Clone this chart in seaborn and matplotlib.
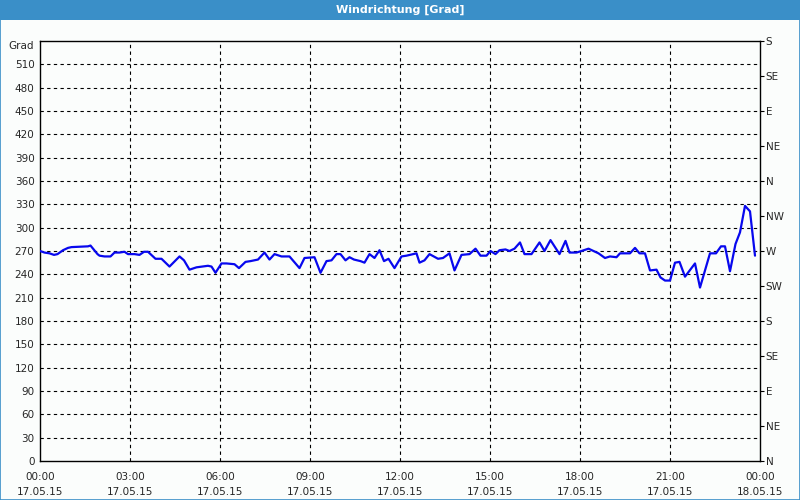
import matplotlib
matplotlib.use("Agg")
import matplotlib.pyplot as plt
import matplotlib.patches as mpatches
import seaborn as sns
import pandas as pd

# ---- data (minutes after 00:00 on 17.05.15, wind direction in degrees) ----
minutes = [0, 9, 19, 28, 35, 46, 56, 63, 96, 101, 106, 115, 119, 129, 141, 149, 159, 169, 176,
           189, 199, 208, 216, 226, 231, 243, 259, 279, 288, 299, 313, 336, 343, 351, 363, 373,
           389, 398, 411, 421, 436, 449, 459, 469, 483, 499, 519, 529, 549, 561, 573, 583, 593,
           601, 611, 619, 628, 641, 649, 659, 669, 679, 688, 697, 709, 723, 733, 746, 753, 759,
           769, 779, 796, 806, 819, 829, 843, 859, 871, 881, 893, 901, 911, 919, 931, 939, 949,
           960, 969, 983, 999, 1009, 1021, 1039, 1051, 1059, 1073, 1083, 1097, 1117, 1130, 1140,
           1153, 1160, 1180, 1190, 1199, 1210, 1220, 1233, 1241, 1250, 1260, 1270, 1279, 1290,
           1310, 1320, 1340, 1352, 1362, 1370, 1380, 1391, 1400, 1410, 1420, 1430]
direction = [270, 268, 267, 265, 266, 271, 274, 275, 276, 277, 273, 266, 264, 263, 263, 268, 268,
             269, 266, 266, 265, 269, 269, 263, 260, 260, 250, 263, 258, 246, 249, 251, 250, 242,
             254, 254, 253, 248, 256, 257, 259, 268, 259, 266, 263, 263, 248, 261, 262, 242, 257,
             258, 266, 266, 258, 262, 259, 257, 255, 266, 261, 271, 257, 260, 248, 263, 264, 266,
             267, 255, 258, 266, 260, 261, 267, 245, 265, 266, 273, 264, 264, 270, 266, 271, 272,
             270, 273, 281, 266, 266, 281, 270, 284, 266, 283, 268, 268, 270, 273, 267, 261, 263,
             262, 267, 267, 274, 267, 267, 245, 246, 236, 232, 232, 255, 256, 237, 254, 223, 267,
             267, 276, 276, 244, 279, 294, 328, 321, 264]

left_ticks = list(range(0, 511, 30))
compass_labels = ["N", "NE", "E", "SE", "S", "SW", "W", "NW", "N", "NE", "E", "SE", "S"]
compass_ticks = list(range(0, 541, 45))
time_labels = ["00:00\n17.05.15", "03:00\n17.05.15", "06:00\n17.05.15", "09:00\n17.05.15",
               "12:00\n17.05.15", "15:00\n17.05.15", "18:00\n17.05.15", "21:00\n17.05.15",
               "00:00\n18.05.15"]
title = "Windrichtung [Grad]"

df = pd.DataFrame({"hour": [m / 60 for m in minutes], "deg": direction})

sns.set_style("white")
plt.rcParams["font.family"] = ["DejaVu Sans"]

bg = "#fbfdfc"
blue_bar = "#3a8fc8"

fig = plt.figure(figsize=(8, 5), dpi=100, facecolor=bg)
ax = fig.add_axes([0.05, 0.078, 0.90, 0.84])
ax.set_facecolor(bg)

sns.lineplot(data=df, x="hour", y="deg", ax=ax, color="#0808ee", linewidth=1.6, zorder=5)

ax.set_xlim(0, 24)
ax.set_ylim(0, 540)
ax.set_xticks([i * 3 for i in range(9)])
ax.set_xticklabels(time_labels, fontsize=7.5, linespacing=1.55)
ax.set_xticks(list(range(0, 25)), minor=True)
ax.set_yticks(left_ticks)
ax.set_yticklabels([str(v) for v in left_ticks], fontsize=7.5)
ax.set_xlabel("")
ax.set_ylabel("")

for s in ax.spines.values():
    s.set_color("black")
    s.set_linewidth(1.0)

ax.tick_params(axis="x", which="major", length=4, width=0.8, color="black", pad=4)
ax.tick_params(axis="x", which="minor", length=3, width=0.8, color="black")
ax.tick_params(axis="y", which="major", length=0, pad=4)

for v in left_ticks[1:]:
    ax.axhline(v, color="black", linewidth=0.8, linestyle=(0, (3, 3)), zorder=1)
for h in range(3, 24, 3):
    ax.axvline(h, color="black", linewidth=0.8, linestyle=(0, (3, 3)), zorder=1)

ax2 = ax.twinx()
ax2.set_ylim(0, 540)
ax2.set_yticks(compass_ticks)
ax2.set_yticklabels(compass_labels, fontsize=7.5)
ax2.tick_params(axis="y", length=3, width=0.8, color="black", pad=1)
for s in ax2.spines.values():
    s.set_visible(False)

ax.text(-0.008, 540 - 0, "Grad", transform=ax.get_yaxis_transform(), fontsize=7.5,
        ha="right", va="top")

# title bar and frame
fig.patches.append(mpatches.Rectangle((0, 0.96), 1, 0.04, transform=fig.transFigure,
                                      facecolor=blue_bar, edgecolor="none", zorder=0))
fig.patches.append(mpatches.Rectangle((0.0006, 0.001), 0.9988, 0.998, transform=fig.transFigure,
                                      facecolor="none", edgecolor=blue_bar, linewidth=1.2, zorder=10))
fig.text(0.5, 0.98, title, color="white", fontsize=8, fontweight="bold", ha="center", va="center")

fig.savefig("out.png", dpi=100, facecolor=bg)
